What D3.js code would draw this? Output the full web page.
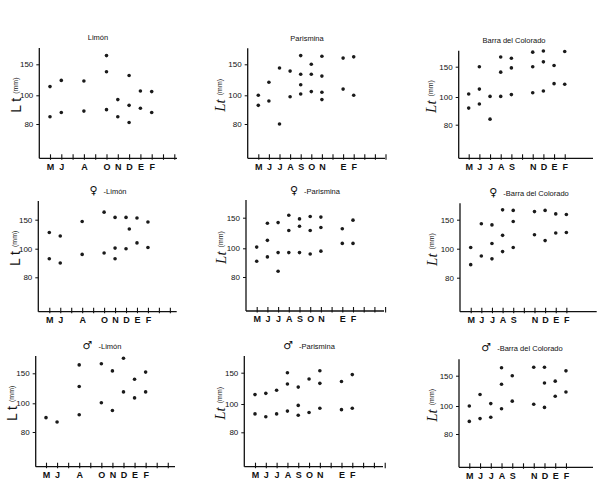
<!DOCTYPE html>
<html>
<head>
<meta charset="utf-8">
<script src="https://cdn.jsdelivr.net/npm/d3@7"></script>
<style>
  body { margin: 0; background: #fff; }
  svg { display: block; font-family: "Liberation Sans", Arial, sans-serif; }
</style>
</head>
<body>
<div id="chart-area"></div>
<script>
// Month index: 0=M(ayo) 1=J(unio) 2=J(ulio) 3=A 4=S 5=O 6=N 7=D 8=E(nero) 9=F ...
// Each point: [month, Lt in mm]

// Row 1: all turtles
var limonAll = [[0,114],[0,85],[1,124],[1,88],[3,123],[3,89],[5,164],[5,138],[5,90],
  [6,97],[6,85],[7,132],[7,93],[7,81],[8,107],[8,91],[9,106],[9,88]];
var parisminaAll = [[0,100],[0,93],[1,121],[1,96],[2,144],[2,80],[3,139],[3,99],
  [4,164],[4,134],[4,117],[4,102],[5,150],[5,134],[5,106],[6,163],[6,131],[6,105],[6,97],
  [8,160],[8,110],[9,162],[9,100]];
var barraAll = [[0,105],[0,92],[1,150],[1,113],[1,95],[2,101],[2,84],[3,166],[3,141],[3,101],
  [4,164],[4,148],[4,104],[6,174],[6,150],[6,107],[7,176],[7,158],[7,110],[8,152],[8,122],
  [9,175],[9,121]];

// Row 2: females
var limonF = [[0,128],[0,93],[1,122],[1,90],[3,147],[3,96],[5,163],[5,97],[6,154],[6,101],[6,93],
  [7,154],[7,100],[7.3,134],[8,153],[8,110],[9,146],[9,102]];
var parisminaF = [[0,102],[0,91],[1,141],[1,113],[1,94],[2,142],[2,97],[2,84],[3,154],[3,129],[3,97],
  [4,148],[4,136],[4,97],[5,152],[5,129],[5,96],[6,151],[6,134],[6,98],[8,132],[8,108],[9,146],[9,108]];
var barraF = [[0,102],[0,89],[1,143],[1,95],[2,141],[2,109],[2,93],[3,167],[3,123],[3,98],
  [4,166],[4,147],[4,102],[6,164],[6,124],[7,166],[7,114],[8,160],[8,127],[9,159],[9,128]];

// Row 3: males
var limonM = [[0,90],[1,87],[3,164],[3,128],[3,92],[5,166],[5,101],[6,154],[6,95],
  [7,175],[7,119],[8,140],[8,109],[9,152],[9,119]];
var parisminaM = [[0,115],[0,93],[1,117],[1,91],[2,122],[2,93],[3,150],[3,132],[3,95],
  [4,127],[4,99],[4,92],[5,140],[5,94],[6,153],[6,133],[6,97],[8,136],[8,96],[9,147],[9,97]];
var barraM = [[0,100],[0,89],[1,119],[1,91],[2,104],[2,92],[3,163],[3,136],[3,98],
  [4,150],[4,108],[6,164],[6,103],[7,164],[7,138],[7,99],[8,141],[8,116],[9,158],[9,123]];

// tick labels (one entry per tick on the x axis)
var monthsLimon = ["M","J","","A","","O","N","D","E","F","",""];
var monthsParismina = ["M","J","J","A","S","O","N","","E","F","","",""];
var monthsBarra = ["M","J","J","A","S","","N","D","E","F"];
var yTicks = [80, 100, 150];

var titles = ["Limón", "Parismina", "Barra del Colorado"];
var sexSymbols = ["", "\u2640", "\u2642"];

var width = 599, height = 485;

var svg = d3.select("#chart-area")
    .append("svg")
    .attr("width", width)
    .attr("height", height);

// positions of each panel
var panels = [
  { data: limonAll, months: monthsLimon, t: 0, s: 0, ax: 39.3, xEnd: 177, xM: 50, step: 11.3, top: 48, bottom: 158.3, yp: [124, 95.3, 64.3], tx: 98, ty: 40, lx: 16, script: false },
  { data: parisminaAll, months: monthsParismina, t: 1, s: 0, ax: 247.7, xEnd: 385, xM: 258.3, step: 10.6, top: 48.3, bottom: 158.3, yp: [124, 95.3, 64.3], tx: 307, ty: 41, lx: 220, script: true },
  { data: barraAll, months: monthsBarra, t: 2, s: 0, ax: 458.7, xEnd: 593, xM: 468.7, step: 10.67, top: 50.7, bottom: 158.3, yp: [124.7, 97, 66.7], tx: 514, ty: 43, lx: 431, script: true },
  { data: limonF, months: monthsLimon, t: 0, s: 1, ax: 38.3, xEnd: 176.7, xM: 49.3, step: 10.96, top: 201, bottom: 311.7, yp: [277.3, 248.7, 219.7], tx: 108, ty: 194, lx: 15, script: false },
  { data: parisminaF, months: monthsParismina, t: 1, s: 1, ax: 246, xEnd: 384, xM: 256.7, step: 10.7, top: 200, bottom: 311, yp: [277, 248.3, 217.7], tx: 315, ty: 194, lx: 221, script: true },
  { data: barraF, months: monthsBarra, t: 2, s: 1, ax: 460, xEnd: 596.7, xM: 470.7, step: 10.63, top: 203.3, bottom: 311.7, yp: [277.7, 248.7, 219.7], tx: 529, ty: 196, lx: 432, script: true },
  { data: limonM, months: monthsLimon, t: 0, s: 2, ax: 35.7, xEnd: 175, xM: 46, step: 11.07, top: 356, bottom: 466.7, yp: [432, 403.3, 373.3], tx: 102, ty: 349, lx: 12, script: false },
  { data: parisminaM, months: monthsParismina, t: 1, s: 2, ax: 244.3, xEnd: 383, xM: 255, step: 10.81, top: 356, bottom: 466.7, yp: [432.3, 404, 372.7], tx: 309, ty: 349, lx: 220, script: true },
  { data: barraM, months: monthsBarra, t: 2, s: 2, ax: 459, xEnd: 593, xM: 469.3, step: 10.74, top: 359.3, bottom: 467.3, yp: [434, 406, 375.7], tx: 522, ty: 351, lx: 432, script: true }
];

panels.forEach(function(p) {
    var g = svg.append("g");

    // x: month index -> position
    var x = d3.scaleLinear()
        .domain([0, 1])
        .range([p.xM, p.xM + p.step]);

    // y: the printed axis puts 80, 100, 150 at near even spacing, so a piecewise scale
    var y = d3.scaleLinear()
        .domain(yTicks)
        .range(p.yp);

    // axis lines
    g.append("line")
        .attr("x1", p.ax).attr("x2", p.ax)
        .attr("y1", p.top).attr("y2", p.bottom)
        .attr("stroke", "#111").attr("stroke-width", 1.3);
    g.append("line")
        .attr("x1", p.ax).attr("x2", p.xEnd)
        .attr("y1", p.bottom).attr("y2", p.bottom)
        .attr("stroke", "#111").attr("stroke-width", 1.3);

    // x axis ticks (pointing up) with month letters
    var xAxis = d3.axisBottom(x)
        .tickValues(d3.range(p.months.length))
        .tickFormat(function(i) { return p.months[i]; })
        .tickSizeInner(-4)
        .tickSizeOuter(0)
        .tickPadding(5);

    var xg = g.append("g")
        .attr("transform", "translate(0," + p.bottom + ")")
        .call(xAxis);
    xg.select(".domain").remove();
    xg.selectAll(".tick line").attr("stroke", "#111").attr("stroke-width", 1.1).attr("y1", 1.5);
    xg.selectAll(".tick text")
        .attr("fill", "#111")
        .style("font-size", "9px")
        .style("font-weight", "bold")
        .style("font-family", "'Liberation Sans', Arial, sans-serif");

    // y axis
    var yAxis = d3.axisLeft(y)
        .tickValues(yTicks)
        .tickSize(3)
        .tickPadding(3);

    var yg = g.append("g")
        .attr("transform", "translate(" + p.ax + ",0)")
        .call(yAxis);
    yg.select(".domain").remove();
    yg.selectAll(".tick line").attr("stroke", "#111");
    yg.selectAll(".tick text")
        .attr("fill", "#111")
        .style("font-size", "8px")
        .style("font-family", "'Liberation Sans', Arial, sans-serif");

    // y label
    var ly = (p.top + p.bottom) / 2 - 8;
    var lab = g.append("text")
        .attr("transform", "translate(" + (p.lx + 5) + "," + ly + ") rotate(-90)")
        .attr("text-anchor", "middle")
        .attr("fill", "#111");
    lab.append("tspan")
        .style("font-size", p.script ? "15px" : "14px")
        .style("font-family", p.script ? "'Liberation Serif', serif" : "'Liberation Sans', Arial, sans-serif")
        .style("font-style", p.script ? "italic" : "normal")
        .text(p.script ? "Lt" : "L t");
    lab.append("tspan")
        .attr("dx", 4)
        .attr("dy", -3)
        .style("font-size", "7px")
        .text("(mm)");

    // title
    var title = g.append("text")
        .attr("x", p.tx)
        .attr("y", p.ty)
        .attr("text-anchor", "middle")
        .attr("fill", "#111")
        .style("font-size", "7.5px");
    if (sexSymbols[p.s] !== "") {
        title.append("tspan")
            .style("font-size", "11px")
            .style("font-family", "'DejaVu Sans', sans-serif")
            .text(sexSymbols[p.s]);
        title.append("tspan").attr("dx", 6).text("-" + titles[p.t]);
    } else {
        title.text(titles[p.t]);
    }

    // points
    g.selectAll("circle")
        .data(p.data)
        .enter().append("circle")
        .attr("cx", function(d) { return x(d[0]); })
        .attr("cy", function(d) { return y(d[1]); })
        .attr("r", 1.8)
        .attr("fill", "#1a1a1a");
});
</script>
</body>
</html>
